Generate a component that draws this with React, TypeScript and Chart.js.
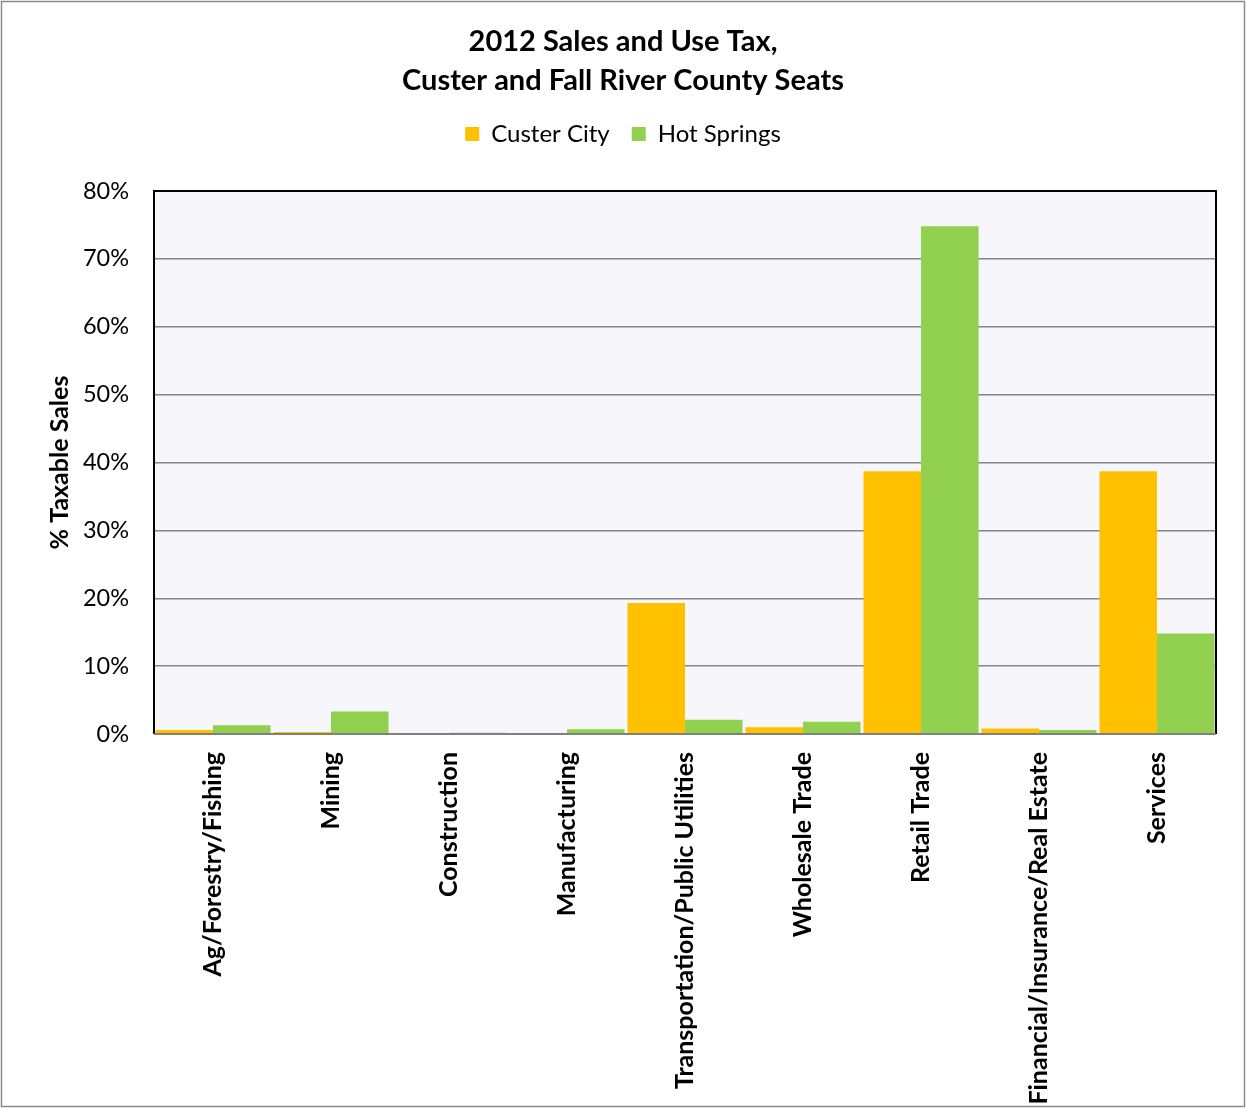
import React, { useEffect, useRef } from "react";
import { Chart, registerables } from "chart.js";

Chart.register(...registerables);

const categories = [
  "Ag/Forestry/Fishing",
  "Mining",
  "Construction",
  "Manufacturing",
  "Transportation/Public Utilities",
  "Wholesale Trade",
  "Retail Trade",
  "Financial/Insurance/Real Estate",
  "Services",
];
const custerCity = [0.6, 0.3, 0.05, 0.1, 19.3, 1.0, 38.7, 0.8, 38.7];
const hotSprings = [1.3, 3.3, 0.2, 0.7, 2.1, 1.8, 74.8, 0.6, 14.8];
const seriesNames = ["Custer City", "Hot Springs"];
const titleLines = ["2012 Sales and Use Tax,", "Custer and Fall River County Seats"];
const yAxisTitle = "% Taxable Sales";

const FONT = "Lato";

const framePlugin = {
  id: "frame",
  beforeLayout(chart: any) {
    const lg = chart.legend;
    if (lg && !lg._patched) {
      const orig = lg.fit.bind(lg);
      lg.fit = function () {
        orig();
        this.height = 91;
      };
      lg._patched = true;
    }
  },
  beforeDraw(chart: any) {
    const { ctx, chartArea } = chart;
    ctx.save();
    ctx.fillStyle = "#ffffff";
    ctx.fillRect(0, 0, chart.width, chart.height);
    ctx.fillStyle = "#F6F6FB";
    ctx.fillRect(chartArea.left, chartArea.top, chartArea.right - chartArea.left, chartArea.bottom - chartArea.top);
    ctx.strokeStyle = "#8c8c8c";
    ctx.lineWidth = 1.5;
    ctx.strokeRect(1.5, 1.5, chart.width - 3, chart.height - 3);
    ctx.restore();
  },
  afterDatasetsDraw(chart: any) {
    const { ctx, chartArea } = chart;
    ctx.save();
    ctx.strokeStyle = "#000000";
    ctx.lineWidth = 2;
    ctx.beginPath();
    ctx.moveTo(chartArea.left, chartArea.bottom);
    ctx.lineTo(chartArea.left, chartArea.top);
    ctx.lineTo(chartArea.right, chartArea.top);
    ctx.lineTo(chartArea.right, chartArea.bottom);
    ctx.stroke();
    ctx.strokeStyle = "#808080";
    ctx.lineWidth = 2;
    ctx.beginPath();
    ctx.moveTo(chartArea.left, chartArea.bottom);
    ctx.lineTo(chartArea.right, chartArea.bottom);
    ctx.stroke();
    ctx.restore();
  },
};

export default function App() {
  const ref = useRef<HTMLCanvasElement | null>(null);
  useEffect(() => {
    if (!ref.current) return;
    Chart.defaults.font.family = FONT;
    const chart = new Chart(ref.current, {
      type: "bar",
      data: {
        labels: categories,
        datasets: [
          {
            label: seriesNames[0],
            data: custerCity,
            backgroundColor: "#FFC000",
            barPercentage: 1,
            categoryPercentage: 0.975,
          },
          {
            label: seriesNames[1],
            data: hotSprings,
            backgroundColor: "#92D050",
            barPercentage: 1,
            categoryPercentage: 0.975,
          },
        ],
      },
      options: {
        responsive: false,
        animation: false,
        layout: { padding: { left: 0, right: 0, top: 0, bottom: 0 } },
        plugins: {
          title: {
            display: true,
            text: titleLines,
            color: "#000000",
            font: { family: FONT, size: 29, weight: "bold", lineHeight: 1.345 },
            padding: { top: 22, bottom: 0 },
          },
          legend: {
            display: true,
            position: "top",
            labels: {
              color: "#000000",
              font: { family: FONT, size: 24 },
              boxWidth: 14,
              boxHeight: 14,
              padding: 22,
            },
          },
          tooltip: { enabled: false },
        },
        scales: {
          x: {
            grid: { display: false, drawTicks: false },
            border: { display: false },
            ticks: {
              color: "#000000",
              font: { family: FONT, size: 25, weight: "bold" },
              minRotation: 90,
              maxRotation: 90,
              autoSkip: false,
              padding: 18,
            },
            afterFit(scale: any) {
              scale.height = 374;
            },
          },
          y: {
            min: 0,
            max: 80,
            grid: { color: "#868686", lineWidth: 1.5, drawTicks: false },
            border: { display: false },
            ticks: {
              stepSize: 10,
              color: "#000000",
              font: { family: FONT, size: 23.5 },
              padding: 25,
              callback: (v: any) => v + "%",
            },
            title: {
              display: true,
              text: yAxisTitle,
              color: "#000000",
              font: { family: FONT, size: 25, weight: "bold" },
              padding: { top: 45, bottom: 0 },
            },
            afterFit(scale: any) {
              scale.width = 154;
            },
          },
          yRight: {
            position: "right",
            display: true,
            min: 0,
            max: 80,
            grid: { display: false, drawTicks: false },
            border: { display: false },
            ticks: { display: false },
            afterFit(scale: any) {
              scale.width = 30;
            },
          },
        },
      },
      plugins: [framePlugin],
    } as any);
    return () => chart.destroy();
  }, []);
  return (
    <div style={{ position: "absolute", left: 0, top: 0, width: 1246, height: 1108 }}>
      <canvas ref={ref} width={1246} height={1108} style={{ display: "block" }} />
    </div>
  );
}
